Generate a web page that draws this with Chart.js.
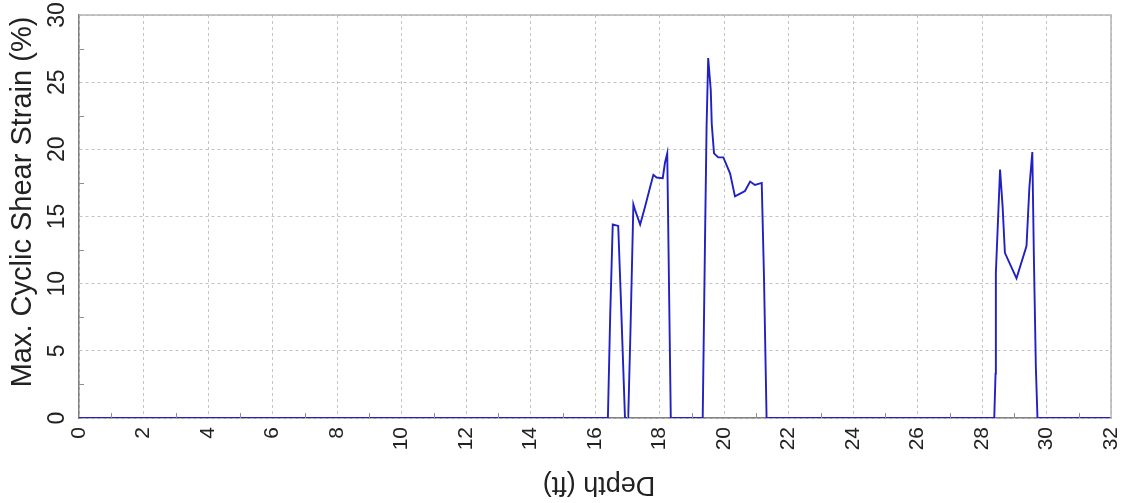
<!DOCTYPE html>
<html>
<head>
<meta charset="utf-8">
<script src="https://cdn.jsdelivr.net/npm/chart.js@4.4.0/dist/chart.umd.min.js"></script>
<style>
html,body{margin:0;padding:0;background:#fff;}
#wrap{width:1132px;height:503px;position:relative;}
</style>
</head>
<body>
<div id="wrap"><canvas id="c" width="1132" height="503"></canvas></div>
<script>
// Depth (ft) along the profile
const depth = [0, 16.40, 16.47, 16.55, 16.72, 16.80, 16.93, 17.03, 17.10, 17.19, 17.24, 17.40, 17.55, 17.71, 17.81, 17.91, 18.10, 18.17, 18.24, 18.35,
  19.34, 19.41, 19.46, 19.51, 19.59, 19.62, 19.69, 19.82, 19.98, 20.19, 20.34, 20.50, 20.65, 20.81, 20.96, 21.17, 21.24, 21.32,
  28.38, 28.42, 28.43, 28.56, 28.64, 28.71, 29.07, 29.38, 29.47, 29.56, 29.61, 29.67, 29.72, 32];
// Max. cyclic shear strain (%)
const strain = [0, 0, 7.5, 14.4, 14.3, 9.0, 0, 0, 6.5, 15.9, 15.5, 14.4, 15.7, 17.2, 18.1, 17.9, 17.85, 19.0, 19.7, 0,
  0, 13.0, 21.7, 26.8, 24.4, 21.9, 19.7, 19.4, 19.4, 18.2, 16.5, 16.7, 16.9, 17.6, 17.35, 17.5, 10.5, 0,
  0, 3.3, 10.8, 18.5, 15.7, 12.3, 10.4, 12.8, 17.2, 19.8, 11.8, 3.8, 0, 0];
const xTitle = 'Depth (ft)';
const yTitle = 'Max. Cyclic Shear Strain (%)';
const xMin = 0, xMax = 32, xStep = 2;
const yMin = 0, yMax = 30, yStep = 5;

const FONT = '"Liberation Sans", Arial, sans-serif';

function noOverhang(s) {
  s.paddingTop = 0; s.paddingBottom = 0; s.paddingLeft = 0; s.paddingRight = 0;
}

const extras = {
  id: 'extras',
  afterDatasetsDraw(chart) {
    const ctx = chart.ctx, a = chart.chartArea;
    const xs = chart.scales.x, ys = chart.scales.y;
    ctx.save();
    // frame top/right
    ctx.strokeStyle = '#b4b4b4';
    ctx.lineWidth = 1.5;
    ctx.beginPath();
    ctx.moveTo(a.left, a.top); ctx.lineTo(a.right, a.top); ctx.lineTo(a.right, a.bottom);
    ctx.stroke();
    // minor ticks
    ctx.strokeStyle = '#909090';
    ctx.lineWidth = 1;
    ctx.beginPath();
    for (let v = xMin + xStep / 2; v < xMax; v += xStep) {
      const px = Math.round(xs.getPixelForValue(v)) + 0.5;
      ctx.moveTo(px, a.bottom); ctx.lineTo(px, a.bottom - 5);
    }
    for (let v = yMin + yStep / 2; v < yMax; v += yStep) {
      const py = Math.round(ys.getPixelForValue(v)) + 0.5;
      ctx.moveTo(a.left, py); ctx.lineTo(a.left + 5, py);
    }
    ctx.stroke();
    // titles
    ctx.fillStyle = '#222';
    ctx.textAlign = 'center';
    ctx.textBaseline = 'middle';
    ctx.font = '27px ' + FONT;
    ctx.save();
    ctx.translate((a.left + a.right) / 2 + 4, 484);
    ctx.rotate(Math.PI);
    ctx.fillText(xTitle, 0, 0);
    ctx.restore();
    ctx.font = '29px ' + FONT;
    ctx.save();
    ctx.translate(23, 202);
    ctx.rotate(-Math.PI / 2);
    ctx.fillText(yTitle, 0, 0);
    ctx.restore();
    ctx.restore();
  }
};

new Chart(document.getElementById('c'), {
  type: 'line',
  data: {
    datasets: [{
      data: depth.map((d, i) => ({ x: d, y: strain[i] })),
      borderColor: '#2020c4',
      borderWidth: 1.9,
      pointRadius: 0,
      tension: 0,
      fill: false
    }]
  },
  options: {
    responsive: false,
    animation: false,
    layout: { padding: { left: 0, right: 21, top: 15, bottom: 0 } },
    plugins: { legend: { display: false }, tooltip: { enabled: false } },
    scales: {
      x: {
        type: 'linear', min: xMin, max: xMax,
        afterFit(s) { s.height = 85; noOverhang(s); },
        border: { color: '#808080', width: 1.5, dash: [3, 3] },
        grid: { color: '#c4c4c4', drawTicks: false, lineWidth: 1 },
        ticks: {
          stepSize: xStep, minRotation: 90, maxRotation: 90, padding: 9,
          color: '#222', font: { family: FONT, size: 21 }
        }
      },
      y: {
        type: 'linear', min: yMin, max: yMax,
        afterFit(s) { s.width = 79; noOverhang(s); },
        border: { color: '#808080', width: 1.5, dash: [3, 3] },
        grid: { color: '#c4c4c4', drawTicks: false, lineWidth: 1 },
        ticks: {
          stepSize: yStep, minRotation: 90, maxRotation: 90, crossAlign: 'center', padding: 9,
          color: '#222', font: { family: FONT, size: 23 }
        }
      }
    }
  },
  plugins: [extras]
});
</script>
</body>
</html>
